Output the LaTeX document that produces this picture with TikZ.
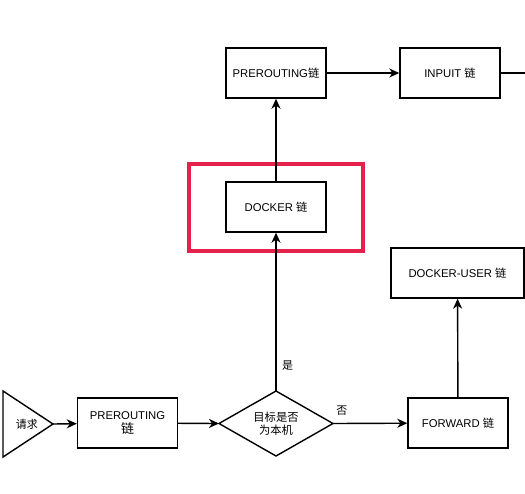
\documentclass[tikz,border=0pt]{standalone}
\usepackage{fontspec}
\setmainfont{Liberation Sans}
\newfontfamily\cjk{Noto Sans CJK SC}
\usetikzlibrary{arrows.meta,shapes.geometric}
\begin{document}
\begin{tikzpicture}[x=1pt,y=-1pt,
  every node/.style={font=\fontsize{11.3}{13}\selectfont},
  box/.style={draw,line width=1.4pt,minimum width=100pt,minimum height=50pt,inner sep=0pt,align=center},
  arr/.style={line width=1.4pt,-{Stealth[length=10pt,width=9pt,inset=3pt]}},
  ln/.style={line width=1.4pt},
  lbl/.style={font=\cjk\fontsize{11}{13}\selectfont}]
\useasboundingbox (0,0) rectangle (525,493);
% start triangle
\draw[ln] (3,391) -- (53,424) -- (3,457) -- cycle;
\node[lbl] (req) at (27,424) {请求};
\coordinate (reqtip) at (53,424);
% boxes
\node[box] (pre1) at (127.5,423) {PREROUTING\\[1pt]{\cjk\fontsize{13}{13}\selectfont 链}};
\draw[ln] (276,391) -- (333,423.5) -- (276,456) -- (219,423.5) -- cycle;
\node[align=center,font=\cjk\fontsize{11.3}{13}\selectfont] (dia) at (276,423.5) {目标是否\\为本机};
\coordinate (diaL) at (219,423.5);
\coordinate (diaR) at (333,423.5);
\coordinate (diaT) at (276,391);
\node[box] (fwd) at (458,423) {FORWARD {\cjk 链}};
\node[box,minimum width=133pt] (duser) at (457.5,273) {DOCKER-USER {\cjk 链}};
\node[box] (docker) at (276,207) {DOCKER {\cjk 链}};
\node[box] (pre2) at (276,73) {PREROUTING{\cjk 链}};
\node[box] (inp) at (450,73) {INPUIT {\cjk 链}};
% red highlight
\draw[line width=3.8pt,draw={rgb,255:red,228;green,34;blue,76}] (189,164) rectangle (363,251);
% connectors
\draw[arr] (reqtip) -- (pre1);
\draw[arr] (pre1) -- (diaL);
\draw[arr] (diaR) -- node[pos=0.12,above=4pt,lbl] (no) {否} (fwd);
\draw[arr] (diaT) -- node[pos=0.16,right=2pt,lbl] (yes) {是} (docker);
\draw[arr] (docker) -- (pre2);
\draw[arr] (pre2) -- (inp);
\draw[arr] (fwd) -- (duser);
\coordinate (e1) at (525,73);
\coordinate (e2) at (527,273);
\draw[ln] (inp) -- (e1);
\draw[ln] (duser.east) -- (e2);
\end{tikzpicture}
\end{document}
